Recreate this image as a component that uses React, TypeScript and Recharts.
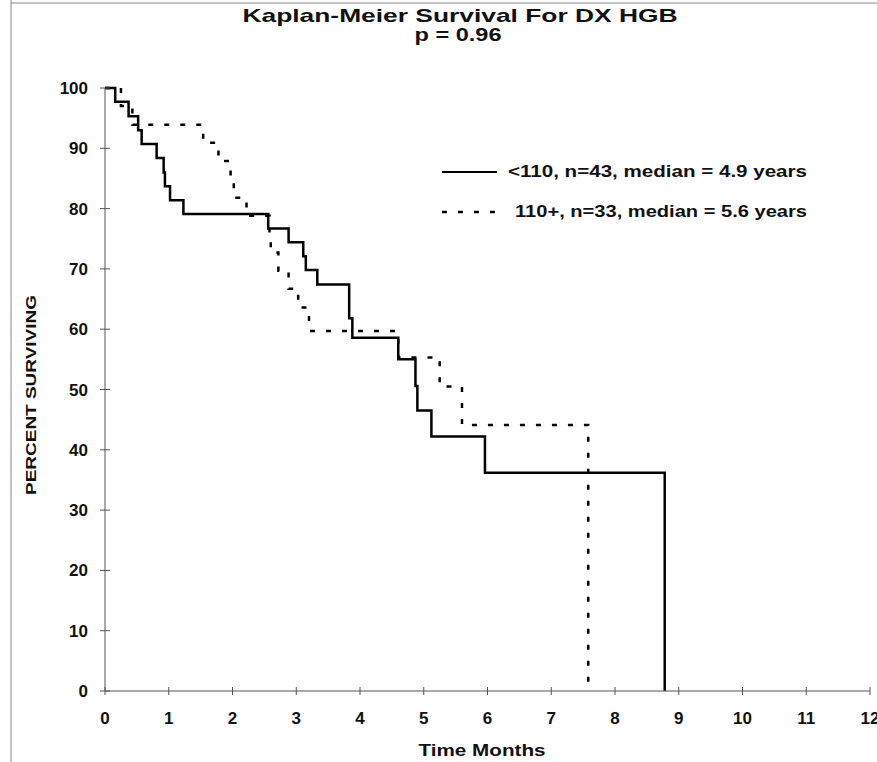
import { Line, LineChart, XAxis, YAxis } from "recharts";

// <110 group, n=43
const lowTimes = [0, 0.16, 0.37, 0.52, 0.575, 0.81, 0.92, 0.94, 1.02, 1.23, 2.56, 2.88, 3.11, 3.15, 3.33, 3.83, 3.88, 4.6, 4.87, 4.9, 5.12, 5.96, 8.78];
const lowSurvival = [100, 97.7, 95.3, 93.0, 90.7, 88.4, 86.0, 83.7, 81.4, 79.1, 76.7, 74.4, 72.1, 69.8, 67.4, 61.8, 58.6, 55.0, 50.6, 46.5, 42.2, 36.2, 0];

// 110+ group, n=33
const highTimes = [0, 0.25, 0.43, 1.54, 1.78, 1.97, 2.02, 2.22, 2.58, 2.6, 2.72, 2.88, 3.03, 3.2, 4.6, 5.25, 5.6, 7.58];
const highSurvival = [100, 97.0, 93.9, 90.9, 87.9, 84.8, 81.8, 78.8, 75.8, 72.7, 69.7, 66.7, 63.6, 59.7, 55.3, 50.5, 44.1, 0];

const xTicks = [0, 1, 2, 3, 4, 5, 6, 7, 8, 9, 10, 11, 12];
const yTicks = [0, 10, 20, 30, 40, 50, 60, 70, 80, 90, 100];

const lowData = lowTimes.map((t, i) => ({ t, s: lowSurvival[i] }));
const highData = highTimes.map((t, i) => ({ t, s: highSurvival[i] }));

const FONT = "'Liberation Sans', Arial, sans-serif";
const AXIS = "#555";
const INK = "#111";

function XTick(props: any) {
  const { x, y, payload } = props;
  return (
    <g>
      <line x1={x} x2={x} y1={y - 4} y2={y + 4} stroke={AXIS} />
      <text x={x} y={y + 33} textAnchor="middle" fontSize={17} fontWeight="bold" fontFamily={FONT} fill={INK}>
        {payload.value}
      </text>
    </g>
  );
}

function YTick(props: any) {
  const { x, y, payload } = props;
  return (
    <g>
      <line x1={x - 5} x2={x + 5} y1={y} y2={y} stroke={AXIS} />
      <text x={x - 17} y={y + 6} textAnchor="end" fontSize={17} fontWeight="bold" fontFamily={FONT} fill={INK}>
        {payload.value}
      </text>
    </g>
  );
}

export default function App() {
  return (
    <div style={{ position: "absolute", left: 0, top: 0, width: 877, height: 762, background: "#fff" }}>
      <LineChart width={877} height={762} margin={{ top: 88, right: 7, bottom: 11, left: 45 }}>
        <XAxis
          type="number"
          dataKey="t"
          domain={[0, 12]}
          ticks={xTicks}
          interval={0}
          tickSize={0}
          tickMargin={0}
          height={60}
          axisLine={{ stroke: AXIS }}
          tick={<XTick />}
        />
        <YAxis
          type="number"
          domain={[0, 100]}
          ticks={yTicks}
          interval={0}
          tickSize={0}
          tickMargin={0}
          width={60}
          axisLine={{ stroke: AXIS }}
          tick={<YTick />}
        />
        <Line
          data={lowData}
          dataKey="s"
          type="stepAfter"
          stroke="#000"
          strokeWidth={2.5}
          dot={false}
          isAnimationActive={false}
        />
        <Line
          data={highData}
          dataKey="s"
          type="stepAfter"
          stroke="#000"
          strokeWidth={2.5}
          strokeDasharray="5 11"
          dot={false}
          isAnimationActive={false}
        />
      </LineChart>

      <svg width={877} height={762} style={{ position: "absolute", left: 0, top: 0, pointerEvents: "none" }}>
        <line x1={11} x2={11} y1={0} y2={762} stroke="#888" />
        <line x1={11} x2={877} y1={3} y2={3} stroke="#888" />

        <g fontFamily={FONT} fontWeight="bold" fill={INK} style={{ whiteSpace: "pre" }}>
          <text x={460} y={22} textAnchor="middle" fontSize={19} textLength={435} lengthAdjust="spacingAndGlyphs">
            {"Kaplan-Meier Survival  For  DX HGB"}
          </text>
          <text x={458} y={41} textAnchor="middle" fontSize={19} textLength={87} lengthAdjust="spacingAndGlyphs">
            p = 0.96
          </text>

          <line x1={442} x2={497} y1={172} y2={172} stroke="#000" strokeWidth={2} />
          <text x={508} y={177} fontSize={16} textLength={299} lengthAdjust="spacingAndGlyphs">
            {"<110, n=43,  median = 4.9 years"}
          </text>
          <line x1={442} x2={497} y1={212} y2={212} stroke="#000" strokeWidth={2.5} strokeDasharray="5 11" />
          <text x={515} y={217} fontSize={16} textLength={292} lengthAdjust="spacingAndGlyphs">
            110+, n=33, median = 5.6 years
          </text>

          <text x={482} y={756} textAnchor="middle" fontSize={17} textLength={127} lengthAdjust="spacingAndGlyphs">
            Time Months
          </text>
          <text
            transform="translate(36,395) rotate(-90)"
            textAnchor="middle"
            fontSize={15}
            textLength={200}
            lengthAdjust="spacingAndGlyphs"
          >
            PERCENT SURVIVING
          </text>
        </g>
      </svg>
    </div>
  );
}
